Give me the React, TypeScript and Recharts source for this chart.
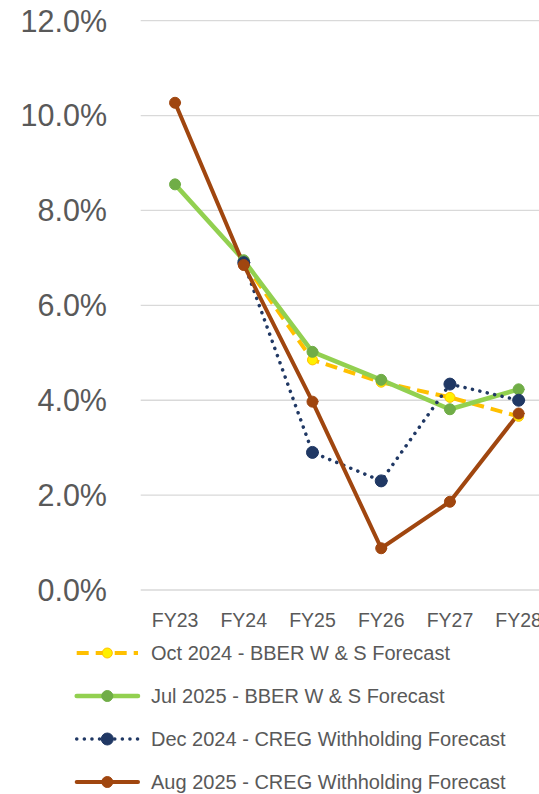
import React from 'react';
import { LineChart, Line, XAxis, YAxis, CartesianGrid } from 'recharts';

const categories = ['FY23', 'FY24', 'FY25', 'FY26', 'FY27', 'FY28'];
const oct2024Bber: (number | null)[] = [null, 6.9, 4.85, 4.38, 4.06, 3.66];
const jul2025Bber: (number | null)[] = [8.55, 6.95, 5.02, 4.43, 3.81, 4.23];
const dec2024Creg: (number | null)[] = [null, 6.9, 2.9, 2.3, 4.34, 4.0];
const aug2025Creg: (number | null)[] = [10.27, 6.85, 3.97, 0.88, 1.86, 3.72];
const yTicks = [0, 2, 4, 6, 8, 10, 12];

const seriesNames = [
  'Oct 2024 - BBER W & S Forecast',
  'Jul 2025 - BBER W & S Forecast',
  'Dec 2024 - CREG Withholding Forecast',
  'Aug 2025 - CREG Withholding Forecast',
];

const data = categories.map((c, i) => ({
  cat: c,
  oct: oct2024Bber[i],
  jul: jul2025Bber[i],
  dec: dec2024Creg[i],
  aug: aug2025Creg[i],
}));

const FONT = '"Liberation Sans", Arial, sans-serif';
const TEXT = '#595959';

const styles = [
  { key: 'oct', stroke: '#FFC000', width: 4, dash: '12 7', cap: 'butt', fill: '#FFF000', mstroke: '#FFC000', r: 5 },
  { key: 'jul', stroke: '#92D050', width: 4.5, dash: undefined, cap: 'round', fill: '#70AD47', mstroke: '#70AD47', r: 5.5 },
  { key: 'dec', stroke: '#203864', width: 3.5, dash: '0.1 7.5', cap: 'round', fill: '#203864', mstroke: '#203864', r: 6 },
  { key: 'aug', stroke: '#A0460F', width: 4, dash: undefined, cap: 'round', fill: '#A0460F', mstroke: '#A0460F', r: 5.5 },
];

function Legend() {
  return (
    <svg width={539} height={160} style={{ position: 'absolute', left: 0, top: 634 }}>
      {seriesNames.map((name, i) => {
        const s = styles[i];
        const y = 19 + i * 43;
        return (
          <g key={name}>
            <line x1={76.7} x2={138} y1={y} y2={y} stroke={s.stroke} strokeWidth={s.width}
              strokeDasharray={s.dash} strokeLinecap={s.cap as any} />
            <circle cx={107.3} cy={y} r={s.r} fill={s.fill} stroke={s.mstroke} strokeWidth={1} />
            <text x={151} y={y} dominantBaseline="central" fontFamily={FONT} fontSize={20} fill={TEXT}>
              {name}
            </text>
          </g>
        );
      })}
    </svg>
  );
}

export default function App() {
  return (
    <div style={{ position: 'relative', width: 539, height: 794, overflow: 'hidden' }}>
      <style>{'html, body { margin: 0; padding: 0; overflow: hidden; }'}</style>
      <LineChart width={554} height={648} data={data}
        margin={{ top: 20.7, right: 1, bottom: 0, left: 0 }}>
        <CartesianGrid horizontal vertical={false} stroke="#D9D9D9" strokeWidth={1.3} />
        <XAxis dataKey="cat" scale="point" padding={{ left: 34.35, right: 34.35 }}
          axisLine={false} tickLine={false} tickSize={0} tickMargin={23} height={58}
          interval={0}
          tick={{ fontFamily: FONT, fontSize: 19.5, fill: TEXT }} />
        <YAxis type="number" domain={[0, 12]} ticks={yTicks} width={140.7}
          axisLine={false} tickLine={false} tickSize={0} tickMargin={33.7}
          tickFormatter={(v: number) => `${v.toFixed(1)}%`}
          tick={{ fontFamily: FONT, fontSize: 30.5, fill: TEXT }} />
        {styles.map((s) => (
          <Line key={s.key} type="linear" dataKey={s.key} stroke={s.stroke} strokeWidth={s.width}
            strokeDasharray={s.dash} strokeLinecap={s.cap as any} isAnimationActive={false}
            connectNulls={false}
            dot={{ r: s.r, fill: s.fill, stroke: s.mstroke, strokeWidth: 1, strokeDasharray: '' }}
            activeDot={false} />
        ))}
      </LineChart>
      <Legend />
    </div>
  );
}
